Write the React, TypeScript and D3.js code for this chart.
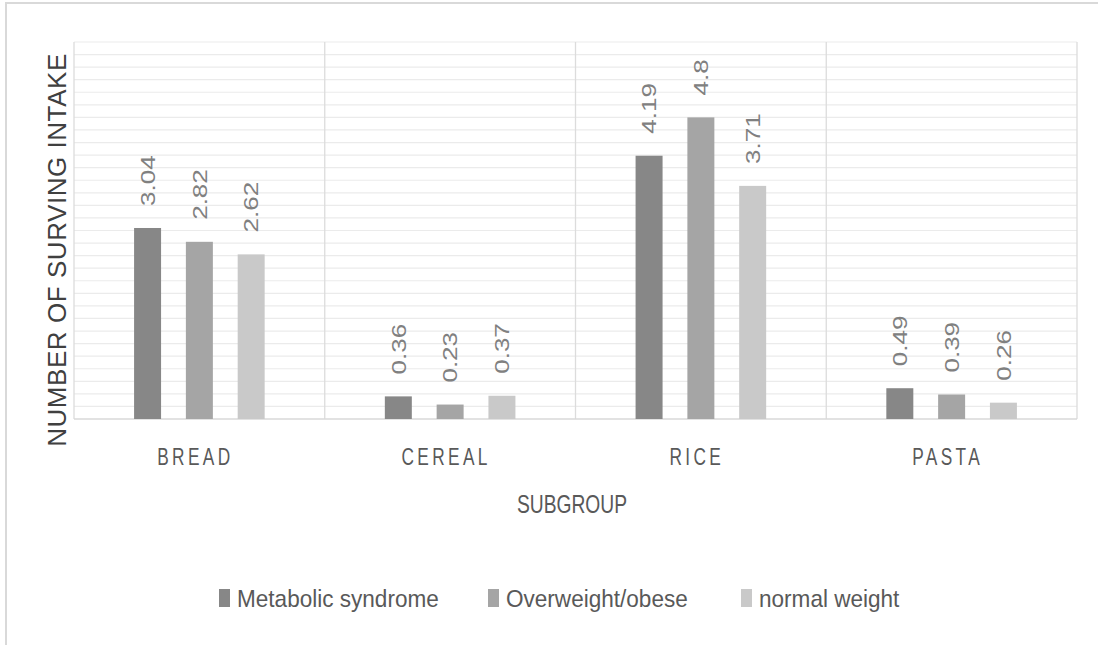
import React from "react";
import * as d3 from "d3";

const categories = ["BREAD", "CEREAL", "RICE", "PASTA"];
const seriesNames = ["Metabolic syndrome", "Overweight/obese", "normal weight"];
const metabolic = [3.04, 0.36, 4.19, 0.49];
const overweight = [2.82, 0.23, 4.8, 0.39];
const normalW = [2.62, 0.37, 3.71, 0.26];
const seriesValues = [metabolic, overweight, normalW];
const colors = ["#878787", "#a5a5a5", "#c9c9c9"];
const yMax = 6;
const gridStep = 0.2;

const W = 1098;
const H = 645;
const plot = { left: 74, right: 1077, top: 42, bottom: 419 };
const FONT = "'Liberation Sans', Arial, sans-serif";

export default function App() {
  const x0 = d3.scaleBand<string>().domain(categories).range([plot.left, plot.right]).padding(0);
  const bw = x0.bandwidth();
  const innerW = bw * 0.7187;
  const x1 = d3
    .scaleBand<string>()
    .domain(seriesNames)
    .range([-innerW / 2, innerW / 2])
    .padding(0.479);
  const y = d3.scaleLinear().domain([0, yMax]).range([plot.bottom, plot.top]);
  const grid = d3.range(gridStep, yMax + 1e-6, gridStep);

  const legendX = [219, 488, 741];

  return (
    <svg
      width={W}
      height={H}
      style={{ position: "absolute", left: 0, top: 0, background: "#fff" }}
      fontFamily={FONT}
    >
      {/* outer border */}
      <rect x={6} y={3} width={W + 20} height={H + 20} fill="#fff" stroke="#d9d9d9" strokeWidth={2} />

      {/* horizontal gridlines */}
      {grid.map((g, i) => (
        <line key={i} x1={plot.left} x2={plot.right} y1={y(g)} y2={y(g)} stroke="#ebebeb" strokeWidth={1.2} />
      ))}
      {/* vertical separators */}
      {categories.map((c, i) => (
        <line
          key={c}
          x1={x0(c)!}
          x2={x0(c)!}
          y1={plot.top}
          y2={plot.bottom}
          stroke="#dcdcdc"
          strokeWidth={1.3}
        />
      ))}
      <line x1={plot.right} x2={plot.right} y1={plot.top} y2={plot.bottom} stroke="#dcdcdc" strokeWidth={1.3} />
      <line x1={plot.left} x2={plot.right} y1={plot.bottom} y2={plot.bottom} stroke="#d9d9d9" strokeWidth={1.5} />

      {/* bars and labels */}
      {categories.map((c, ci) => {
        const cx = x0(c)! + bw / 2;
        return (
          <g key={c}>
            {seriesNames.map((s, si) => {
              const v = seriesValues[si][ci];
              const bx = cx + x1(s)!;
              const by = y(v);
              const mid = bx + x1.bandwidth() / 2;
              const ly = by - 22;
              return (
                <g key={s}>
                  <rect x={bx} y={by} width={x1.bandwidth()} height={plot.bottom - by} fill={colors[si]} />
                  <text
                    transform={`translate(${mid + 7.3},${ly}) rotate(-90) scale(1,0.78)`}
                    fontSize={26}
                    fill="#808080"
                  >
                    {String(v)}
                  </text>
                </g>
              );
            })}
            <text
              transform={`translate(${cx - 4},465) scale(0.72,1)`}
              textAnchor="middle"
              fontSize={24}
              letterSpacing={4.7}
              fill="#595959"
            >
              {c}
            </text>
          </g>
        );
      })}

      {/* axis titles */}
      <text
        transform={`translate(572,513) scale(0.77,1)`}
        textAnchor="middle"
        fontSize={25}
        fill="#595959"
      >
        SUBGROUP
      </text>
      <text
        transform={`translate(66,250) rotate(-90)`}
        textAnchor="middle"
        fontSize={26}
        letterSpacing={0.55}
        fill="#404040"
      >
        NUMBER OF SURVING INTAKE
      </text>

      {/* legend */}
      {seriesNames.map((s, i) => (
        <g key={s}>
          <rect x={legendX[i]} y={589} width={11} height={18} fill={colors[i]} />
          <text
            transform={`translate(${legendX[i] + 18},607) scale(0.94,1)`}
            fontSize={24}
            fill="#595959"
          >
            {s}
          </text>
        </g>
      ))}
    </svg>
  );
}
